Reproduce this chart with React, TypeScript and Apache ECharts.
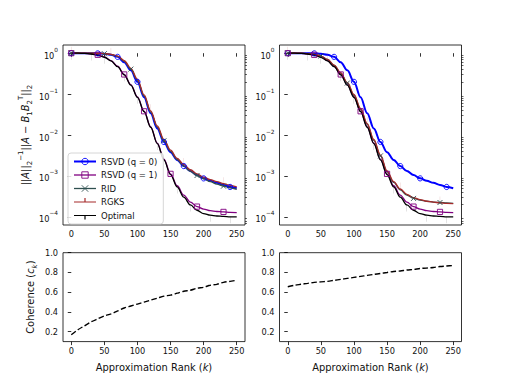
import React, { useEffect, useRef } from "react";
import * as echarts from "echarts";

// ---------- data ----------
const ranks = [0, 10, 20, 30, 40, 50, 60, 70, 80, 90, 100, 110, 120, 130, 140, 150, 160, 170, 180, 190, 200, 210, 220, 230, 240, 250];
const xTicks = [0, 50, 100, 150, 200, 250];
const logTicks = [-4, -3, -2, -1, 0];
const cohTicks = [0.2, 0.4, 0.6, 0.8, 1.0];

// log10 of relative error
const rsvd0Err = [0, 0, 0, 0, -0.005, -0.015, -0.04, -0.09, -0.22, -0.42, -0.7, -1.08, -1.47, -1.84, -2.17, -2.42, -2.61, -2.76, -2.88, -2.98, -3.06, -3.12, -3.17, -3.22, -3.27, -3.3];
const rsvd1Err = [0, 0, -0.005, -0.015, -0.04, -0.09, -0.18, -0.32, -0.52, -0.77, -1.07, -1.42, -1.8, -2.2, -2.59, -2.95, -3.24, -3.47, -3.64, -3.75, -3.81, -3.85, -3.87, -3.88, -3.89, -3.9];
const optimalErr = [0, 0, -0.005, -0.02, -0.05, -0.1, -0.19, -0.33, -0.53, -0.78, -1.08, -1.43, -1.81, -2.21, -2.61, -2.97, -3.27, -3.52, -3.71, -3.84, -3.92, -3.96, -3.98, -3.99, -4.0, -4.0];
const ridErrLeft = [0, 0, 0, 0, -0.004, -0.012, -0.035, -0.08, -0.2, -0.39, -0.67, -1.05, -1.44, -1.81, -2.14, -2.4, -2.6, -2.76, -2.89, -2.99, -3.07, -3.14, -3.2, -3.25, -3.29, -3.33];
const rgksErrLeft = [0, 0, 0, 0, -0.003, -0.01, -0.03, -0.07, -0.18, -0.37, -0.64, -1.02, -1.41, -1.78, -2.11, -2.37, -2.57, -2.72, -2.85, -2.95, -3.03, -3.09, -3.14, -3.19, -3.23, -3.27];
const ridErrRight = [0, 0, 0, -0.01, -0.03, -0.07, -0.15, -0.3, -0.49, -0.73, -1.03, -1.37, -1.74, -2.13, -2.51, -2.9, -3.16, -3.34, -3.47, -3.55, -3.59, -3.62, -3.64, -3.65, -3.66, -3.67];
const rgksErrRight = [0, 0, 0, -0.01, -0.03, -0.07, -0.15, -0.29, -0.48, -0.72, -1.01, -1.35, -1.72, -2.11, -2.49, -2.88, -3.14, -3.32, -3.45, -3.53, -3.58, -3.62, -3.64, -3.66, -3.67, -3.68];

const coherenceLeft = [0.17, 0.22, 0.26, 0.3, 0.33, 0.36, 0.38, 0.41, 0.44, 0.46, 0.48, 0.5, 0.52, 0.54, 0.56, 0.57, 0.59, 0.61, 0.62, 0.64, 0.65, 0.67, 0.68, 0.7, 0.71, 0.72];
const coherenceRight = [0.655, 0.67, 0.68, 0.69, 0.7, 0.705, 0.71, 0.72, 0.73, 0.74, 0.75, 0.76, 0.77, 0.78, 0.79, 0.8, 0.81, 0.815, 0.825, 0.83, 0.84, 0.845, 0.85, 0.86, 0.865, 0.87];

// marker indices into ranks
const rsvd0Marks = [0, 4, 7, 10, 14, 17, 20, 24];
const rsvd1Marks = [0, 4, 8, 11, 15, 19, 23];
const ridMarks = [0, 5, 9, 14, 19, 23];
const rgksMarks = [0, 6, 12, 17, 23];
const optimalMarks = [0, 3, 5, 8, 10, 13, 16, 18, 21, 24];

const FONT = "DejaVu Sans";
const TXT = "#111";

// tick markers: a thin bar in one half of a symmetric (partly empty) box
const TICK_DOWN = "path://M0,-10L1.8,-10L1.8,-10Z M0,0L1.8,0L1.8,10L0,10Z";
const TICK_UP = "path://M0,10L1.8,10L1.8,10Z M0,-10L1.8,-10L1.8,0L0,0Z";
const X_PATH = "path://M0,0L10,10M10,0L0,10";
// legend icons (22 x 8 box): line + tick
const LEG_TICK_UP = "path://M0,8L22,8Z M0,3.4L22,3.4L22,4.6L0,4.6Z M10.4,0L11.6,0L11.6,4L10.4,4Z";
const LEG_TICK_DOWN = "path://M0,0L22,0Z M0,3.4L22,3.4L22,4.6L0,4.6Z M10.4,4L11.6,4L11.6,8L10.4,8Z";

type Sty = { color: string; width: number; symbol: string; size: any; kind: string; legendIcon?: string };

const styles: Record<string, Sty> = {
  "RSVD (q = 0)": { color: "#0000ff", width: 2, symbol: "circle", size: 5.2, kind: "hollow" },
  "RSVD (q = 1)": { color: "#800080", width: 1.3, symbol: "rect", size: 5.2, kind: "hollow" },
  RID: { color: "#2f4f4f", width: 1.3, symbol: X_PATH, size: 5, kind: "stroke" },
  RGKS: { color: "#a52a2a", width: 1.3, symbol: TICK_UP, size: [1.2, 13], kind: "fill", legendIcon: LEG_TICK_UP },
  Optimal: { color: "#000000", width: 1.3, symbol: TICK_DOWN, size: [1.2, 13], kind: "fill", legendIcon: LEG_TICK_DOWN },
};

function errSeries(name: string, values: number[], marks: number[], gi: number) {
  const s = styles[name];
  const itemStyle =
    s.kind === "fill"
      ? { color: s.color, borderWidth: 0 }
      : { color: "rgba(0,0,0,0)", borderColor: s.color, borderWidth: 0.9 };
  return {
    type: "line",
    name,
    xAxisIndex: gi,
    yAxisIndex: gi * 2,
    symbol: s.symbol,
    symbolSize: s.size,
    symbolKeepAspect: true,
    showSymbol: true,
    showAllSymbol: true,
    smooth: 0.35,
    smoothMonotone: "x",
    lineStyle: { color: s.color, width: s.width },
    itemStyle,
    emphasis: { disabled: true },
    data: values.map((v, i) => ({
      value: [ranks[i], v],
      symbol: marks.includes(i) ? s.symbol : "none",
    })),
  };
}

function legendItem(n: string) {
  const s = styles[n];
  if (s.legendIcon) {
    return { name: n, icon: s.legendIcon, itemStyle: { color: s.color, borderWidth: 0 } };
  }
  return {
    name: n,
    itemStyle: { color: "rgba(0,0,0,0)", borderColor: s.color, borderWidth: 0.9 },
    lineStyle: { color: s.color, width: s.width },
  };
}

function cohSeries(values: number[], gi: number) {
  return {
    type: "line",
    xAxisIndex: gi,
    yAxisIndex: gi * 2,
    symbol: "none",
    smooth: 0.3,
    lineStyle: { color: "#000", width: 1.4, type: [5.5, 2.5] },
    emphasis: { disabled: true },
    data: values.map((v, i) => [ranks[i], v]),
  };
}

const minorLogTicks: number[] = [];
for (let n = -5; n <= 0; n++) {
  for (let m = 2; m <= 9; m++) {
    const v = n + Math.log10(m);
    if (v > -4.2 && v < 0.2) minorLogTicks.push(v);
  }
}

const supMap: Record<string, string> = { "0": "0", "-1": "−1", "-2": "−2", "-3": "−3", "-4": "−4" };

const grids = [
  { left: 63, top: 45, width: 182, height: 180 },
  { left: 279.5, top: 45, width: 182, height: 180 },
  { left: 63, top: 252.7, width: 182, height: 88.9 },
  { left: 279.5, top: 252.7, width: 182, height: 88.9 },
];

function xAxis(gi: number, withName: boolean) {
  return {
    type: "value",
    gridIndex: gi,
    min: -12.5,
    max: 262.5,
    axisLine: { show: false },
    splitLine: { show: false },
    axisTick: { show: true, length: 3.5, customValues: xTicks, lineStyle: { color: "#000", width: 0.8 } },
    axisLabel: { customValues: xTicks, fontFamily: FONT, fontSize: 8.2, color: TXT, margin: 5 },
    name: withName ? "{n|Approximation Rank (}{i|k}{n|)}" : "",
    nameLocation: "middle",
    nameGap: 21,
    nameTextStyle: {
      rich: {
        n: { fontFamily: FONT, fontSize: 9.9, color: TXT },
        i: { fontFamily: FONT, fontSize: 9.9, fontStyle: "italic", color: TXT },
      },
    },
  };
}

function logYAxes(gi: number, withName: boolean) {
  return [
    {
      type: "value",
      gridIndex: gi,
      min: -4.2,
      max: 0.2,
      axisLine: { show: false },
      splitLine: { show: false },
      axisTick: { show: true, length: 3.5, customValues: logTicks, lineStyle: { color: "#000", width: 0.8 } },
      axisLabel: {
        customValues: logTicks,
        margin: 5,
        formatter: (v: number) => `{b|10}{s|${supMap[String(Math.round(v))]}}`,
        rich: {
          b: { fontFamily: FONT, fontSize: 8.2, color: TXT, lineHeight: 13, verticalAlign: "bottom" },
          s: { fontFamily: FONT, fontSize: 5.8, color: TXT, lineHeight: 13, verticalAlign: "top" },
        },
      },
      name: withName
        ? "{n|||}{i|A}{n|||}{sb|2}{sp|−1}{n|||}{i|A}{n| − }{i|B}{sb|1}{i|B}{sb|2}{sp|T}{n|||}{sb|2}"
        : "",
      nameLocation: "middle",
      nameGap: 30,
      nameRotate: 90,
      nameTextStyle: {
        rich: {
          n: { fontFamily: FONT, fontSize: 9.9, color: TXT, lineHeight: 16, verticalAlign: "middle" },
          i: { fontFamily: FONT, fontSize: 9.9, fontStyle: "italic", color: TXT, lineHeight: 16, verticalAlign: "middle" },
          sb: { fontFamily: FONT, fontSize: 7, color: TXT, lineHeight: 16, verticalAlign: "bottom" },
          sp: { fontFamily: FONT, fontSize: 7, color: TXT, lineHeight: 16, verticalAlign: "top" },
        },
      },
    },
    {
      type: "value",
      gridIndex: gi,
      min: -4.2,
      max: 0.2,
      axisLine: { show: false },
      splitLine: { show: false },
      axisTick: { show: true, length: 2, customValues: minorLogTicks, lineStyle: { color: "#000", width: 0.6 } },
      axisLabel: { show: false },
    },
  ];
}

function cohYAxes(gi: number, withName: boolean) {
  return [
    {
      type: "value",
      gridIndex: gi,
      min: 0.1,
      max: 1.0,
      axisLine: { show: false },
      splitLine: { show: false },
      axisTick: { show: true, length: 3.5, customValues: cohTicks, lineStyle: { color: "#000", width: 0.8 } },
      axisLabel: {
        customValues: cohTicks,
        margin: 5,
        fontFamily: FONT,
        fontSize: 8.2,
        color: TXT,
        formatter: (v: number) => v.toFixed(1),
      },
      name: withName ? "{n|Coherence (}{i|c}{s|k}{n|)}" : "",
      nameLocation: "middle",
      nameGap: 25,
      nameRotate: 90,
      nameTextStyle: {
        rich: {
          n: { fontFamily: FONT, fontSize: 9.9, color: TXT, lineHeight: 15, verticalAlign: "middle" },
          i: { fontFamily: FONT, fontSize: 9.9, fontStyle: "italic", color: TXT, lineHeight: 15, verticalAlign: "middle" },
          s: { fontFamily: FONT, fontSize: 7, fontStyle: "italic", color: TXT, lineHeight: 15, verticalAlign: "bottom" },
        },
      },
    },
    {
      type: "value",
      gridIndex: gi,
      min: 0.1,
      max: 1.0,
      show: false,
    },
  ];
}

export default function App() {
  const ref = useRef<HTMLDivElement>(null);
  useEffect(() => {
    if (!ref.current) return;
    const chart = echarts.init(ref.current, null, { renderer: "svg" });
    const names = ["RSVD (q = 0)", "RSVD (q = 1)", "RID", "RGKS", "Optimal"];
    const option: any = {
      animation: false,
      backgroundColor: "#ffffff",
      grid: grids.map((g) => ({ ...g, show: true, borderColor: "#000", borderWidth: 0.8, backgroundColor: "transparent" })),
      xAxis: [xAxis(0, false), xAxis(1, false), xAxis(2, true), xAxis(3, true)],
      yAxis: [...logYAxes(0, true), ...logYAxes(1, false), ...cohYAxes(2, true), ...cohYAxes(3, false)],
      legend: {
        data: names.map(legendItem),
        orient: "vertical",
        left: 68,
        top: 153,
        itemWidth: 22,
        itemHeight: 8,
        itemGap: 4.5,
        padding: [4, 6, 4, 5],
        itemStyle: { borderWidth: 0.9 },
        backgroundColor: "rgba(255,255,255,0.85)",
        borderColor: "#cccccc",
        borderWidth: 0.8,
        borderRadius: 3,
        textStyle: { fontFamily: FONT, fontSize: 8.5, color: TXT },
        selectedMode: false,
      },
      series: [
        errSeries("RSVD (q = 0)", rsvd0Err, rsvd0Marks, 0),
        errSeries("RSVD (q = 1)", rsvd1Err, rsvd1Marks, 0),
        errSeries("RID", ridErrLeft, ridMarks, 0),
        errSeries("RGKS", rgksErrLeft, rgksMarks, 0),
        errSeries("Optimal", optimalErr, optimalMarks, 0),
        errSeries("RSVD (q = 0)", rsvd0Err, rsvd0Marks, 1),
        errSeries("RSVD (q = 1)", rsvd1Err, rsvd1Marks, 1),
        errSeries("RID", ridErrRight, ridMarks, 1),
        errSeries("RGKS", rgksErrRight, rgksMarks, 1),
        errSeries("Optimal", optimalErr, optimalMarks, 1),
        cohSeries(coherenceLeft, 2),
        cohSeries(coherenceRight, 3),
      ],
    };
    chart.setOption(option);
    return () => chart.dispose();
  }, []);
  return <div ref={ref} style={{ position: "fixed", left: 0, top: 0, width: 512, height: 384, background: "#fff" }} />;
}
